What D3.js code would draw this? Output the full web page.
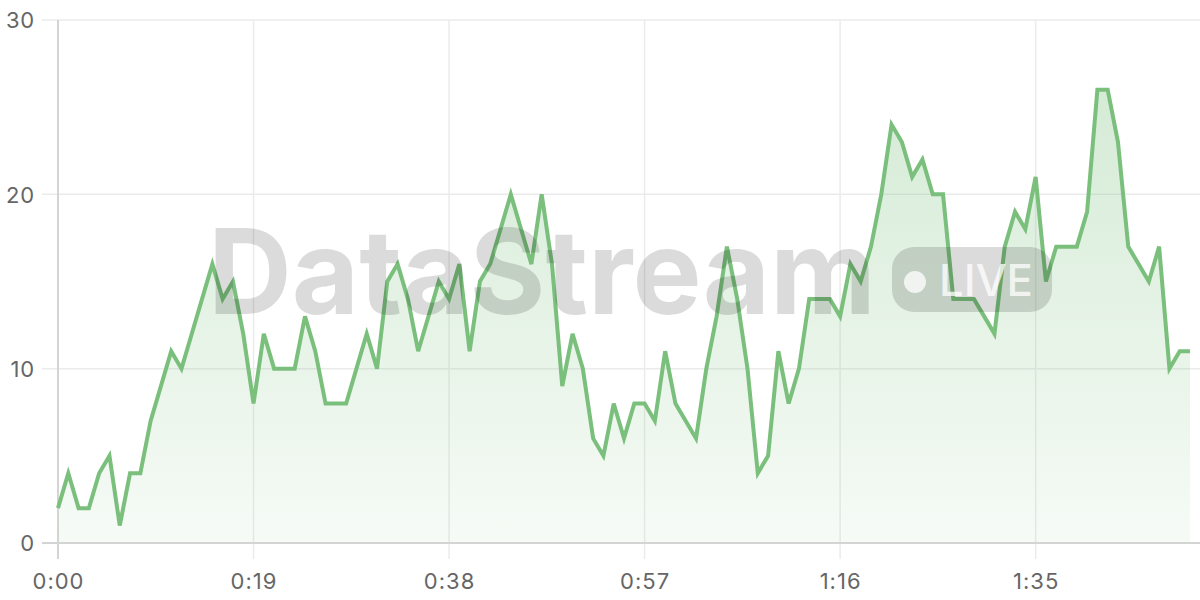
<!DOCTYPE html>
<html>
<head>
<meta charset="utf-8">
<script src="https://cdn.jsdelivr.net/npm/d3@7"></script>
<style>
  html, body { margin: 0; padding: 0; background: #fff; }
  svg { display: block; }
</style>
</head>
<body>
<svg id="chart" width="1200" height="600"></svg>
<script>
// seconds 0..110, one value per second
const seconds = d3.range(0, 111);
const values = [
  2, 4, 2, 2, 4, 5, 1, 4, 4, 7,
  9, 11, 10, 12, 14, 16, 14, 15, 12, 8,
  12, 10, 10, 10, 13, 11, 8, 8, 8, 10,
  12, 10, 15, 16, 14, 11, 13, 15, 14, 16,
  11, 15, 16, 18, 20, 18, 16, 20, 16, 9,
  12, 10, 6, 5, 8, 6, 8, 8, 7, 11,
  8, 7, 6, 10, 13, 17, 14, 10, 4, 5,
  11, 8, 10, 14, 14, 14, 13, 16, 15, 17,
  20, 24, 23, 21, 22, 20, 20, 14, 14, 14,
  13, 12, 17, 19, 18, 21, 15, 17, 17, 17,
  19, 26, 26, 23, 17, 16, 15, 17, 10, 11,
  11
];
const xTicks = [0, 19, 38, 57, 76, 95];
const yTicks = [0, 10, 20, 30];
const watermarkText = "DataStream";
const badgeText = "LIVE";

const data = seconds.map((s, i) => ({ s, v: values[i] }));

const svg = d3.select("#chart");
const x = d3.scaleLinear().domain([0, 110]).range([58, 1190]);
const y = d3.scaleLinear().domain([0, 30]).range([543, 20]);
const fmt = s => Math.floor(s / 60) + ":" + String(s % 60).padStart(2, "0");
const font = "Inter, 'Helvetica Neue', Arial, sans-serif";

// gradient
const defs = svg.append("defs");
const grad = defs.append("linearGradient").attr("id", "areaGrad")
  .attr("gradientUnits", "userSpaceOnUse")
  .attr("x1", 0).attr("y1", y(26)).attr("x2", 0).attr("y2", y(0));
grad.append("stop").attr("offset", "0%").attr("stop-color", "#7cc17f").attr("stop-opacity", 0.32);
grad.append("stop").attr("offset", "100%").attr("stop-color", "#7cc17f").attr("stop-opacity", 0.07);

// horizontal grid
svg.append("g")
  .selectAll("line").data(yTicks.filter(d => d > 0)).join("line")
  .attr("x1", 42).attr("x2", 1200)
  .attr("y1", d => y(d)).attr("y2", d => y(d))
  .attr("stroke", "#ebebeb").attr("stroke-width", 1.5);
// vertical grid
svg.append("g")
  .selectAll("line").data(xTicks.filter(d => d > 0)).join("line")
  .attr("x1", d => x(d)).attr("x2", d => x(d))
  .attr("y1", 20).attr("y2", 559)
  .attr("stroke", "#ebebeb").attr("stroke-width", 1.5);

// area
svg.append("path").datum(data)
  .attr("d", d3.area().x(d => x(d.s)).y0(y(0)).y1(d => y(d.v)))
  .attr("fill", "url(#areaGrad)");

// axes lines
svg.append("line").attr("x1", 42).attr("x2", 1200).attr("y1", y(0)).attr("y2", y(0))
  .attr("stroke", "#d4d4d4").attr("stroke-width", 2);
svg.append("line").attr("x1", x(0)).attr("x2", x(0)).attr("y1", 20).attr("y2", 559)
  .attr("stroke", "#d4d4d4").attr("stroke-width", 2);

// line
svg.append("path").datum(data)
  .attr("d", d3.line().x(d => x(d.s)).y(d => y(d.v)))
  .attr("fill", "none").attr("stroke", "#7abf7c").attr("stroke-width", 4)
  .attr("stroke-linejoin", "miter").attr("stroke-miterlimit", 4);

// axis labels
const yAxis = d3.axisLeft(y).tickValues(yTicks).tickSize(0).tickPadding(0);
const gy = svg.append("g").attr("transform", "translate(35,0)").call(yAxis);
gy.select(".domain").remove();
gy.selectAll("text").attr("font-family", font).attr("font-size", 22)
  .attr("letter-spacing", "0.8px").attr("fill", "#666").attr("dy", "0.35em");

const xAxis = d3.axisBottom(x).tickValues(xTicks).tickFormat(fmt).tickSize(0).tickPadding(0);
const gx = svg.append("g").attr("transform", "translate(0,581)").call(xAxis);
gx.select(".domain").remove();
gx.selectAll("text").attr("font-family", font).attr("font-size", 22)
  .attr("letter-spacing", "1px").attr("fill", "#666").attr("dy", "0.35em");

// watermark
const wm = svg.append("g").attr("pointer-events", "none");
wm.append("text").text(watermarkText)
  .attr("x", 208).attr("y", 314)
  .attr("font-family", font).attr("font-weight", 700).attr("font-size", 118)
  .attr("textLength", 668).attr("lengthAdjust", "spacingAndGlyphs")
  .attr("fill", "rgba(0,0,0,0.14)");
wm.append("rect").attr("x", 892).attr("y", 247).attr("width", 160).attr("height", 65)
  .attr("rx", 22).attr("fill", "rgba(0,0,0,0.14)");
wm.append("circle").attr("cx", 915).attr("cy", 282).attr("r", 11)
  .attr("fill", "rgba(255,255,255,0.75)");
wm.append("text").text(badgeText)
  .attr("x", 939).attr("y", 296)
  .attr("font-family", font).attr("font-weight", 500).attr("font-size", 44)
  .attr("textLength", 94).attr("lengthAdjust", "spacingAndGlyphs")
  .attr("fill", "rgba(255,255,255,0.75)");
</script>
</body>
</html>
